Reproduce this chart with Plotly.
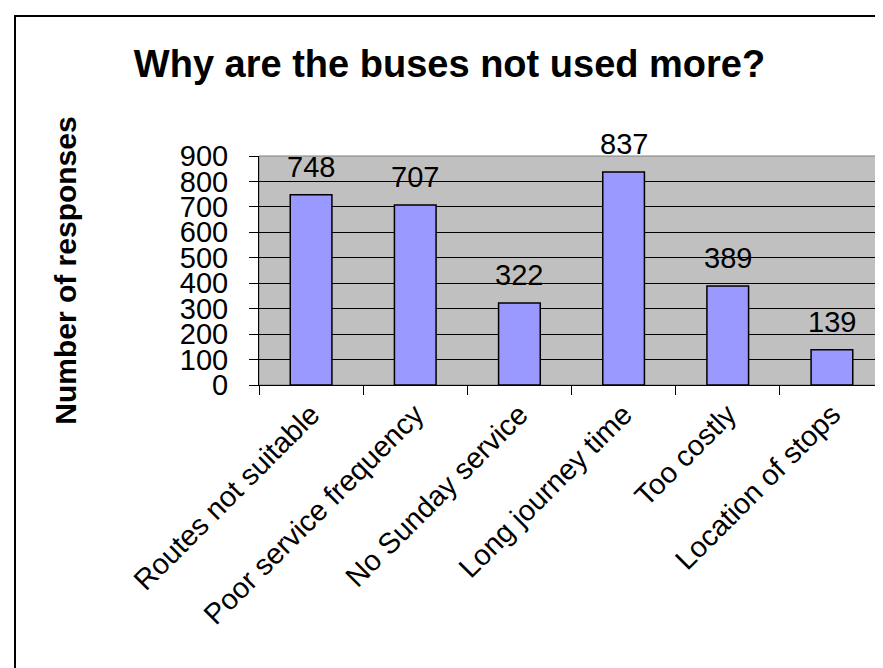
import plotly.graph_objects as go

categories = ["Routes not suitable", "Poor service frequency", "No Sunday service",
              "Long journey time", "Too costly", "Location of stops"]
responses = [748, 707, 322, 837, 389, 139]
y_ticks = [0, 100, 200, 300, 400, 500, 600, 700, 800, 900]

title_text = "Why are the buses not used more?"
y_title = "Number of responses"

FONT = "Liberation Sans, Arial, sans-serif"

fig = go.Figure()
fig.add_trace(go.Bar(
    x=categories, y=responses, width=0.4,
    marker=dict(color="#9999FF", line=dict(color="black", width=1.5)),
    hoverinfo="x+y",
))

for c, v in zip(categories, responses):
    fig.add_annotation(x=c, y=v, text=str(v), showarrow=False, yanchor="bottom",
                       yshift=10, font=dict(family=FONT, size=29, color="black"))

fig.add_annotation(xref="paper", yref="paper", x=-0.31, y=0.5, text=y_title,
                   textangle=-90, showarrow=False, xanchor="center", yanchor="middle",
                   font=dict(family=FONT, size=30, color="black", weight="bold"))

# outer chart border
fig.add_shape(type="rect", xref="paper", yref="paper",
              x0=-0.3904, x1=1.05, y0=-1.5, y1=1.611,
              line=dict(color="black", width=2), fillcolor="rgba(0,0,0,0)", layer="above")

fig.update_layout(
    width=883, height=668,
    margin=dict(l=251, r=7, t=148, b=291),
    paper_bgcolor="white", plot_bgcolor="#C0C0C0",
    showlegend=False,
    title=dict(text=title_text, x=0.5, xref="container", xanchor="center",
               y=1 - 56 / 668, yref="container", yanchor="middle",
               font=dict(family=FONT, size=38, color="black", weight="bold")),
    font=dict(family=FONT, color="black"),
    bargap=0.6,
)
fig.update_xaxes(
    type="category", showgrid=False, ticks="outside", tickson="boundaries",
    ticklen=9, tickcolor="black", tickwidth=1,
    showline=True, linecolor="black", linewidth=1, mirror=False,
    tickangle=-45, tickfont=dict(family=FONT, size=29, color="black"),
)
fig.update_yaxes(
    range=[0, 900], tickvals=y_ticks, ticktext=[str(t) for t in y_ticks],
    showgrid=True, gridcolor="black", gridwidth=1,
    ticks="outside", ticklen=9, tickcolor="black",
    showline=True, linecolor="black", linewidth=1,
    tickfont=dict(family=FONT, size=29, color="black"),
    ticklabelstandoff=15, zeroline=False,
)
# gray top/right plot frame
fig.add_shape(type="rect", xref="paper", yref="paper", x0=0, x1=1, y0=0, y1=1,
              line=dict(color="#808080", width=1), fillcolor="rgba(0,0,0,0)", layer="below")

fig.write_html("out.html")
